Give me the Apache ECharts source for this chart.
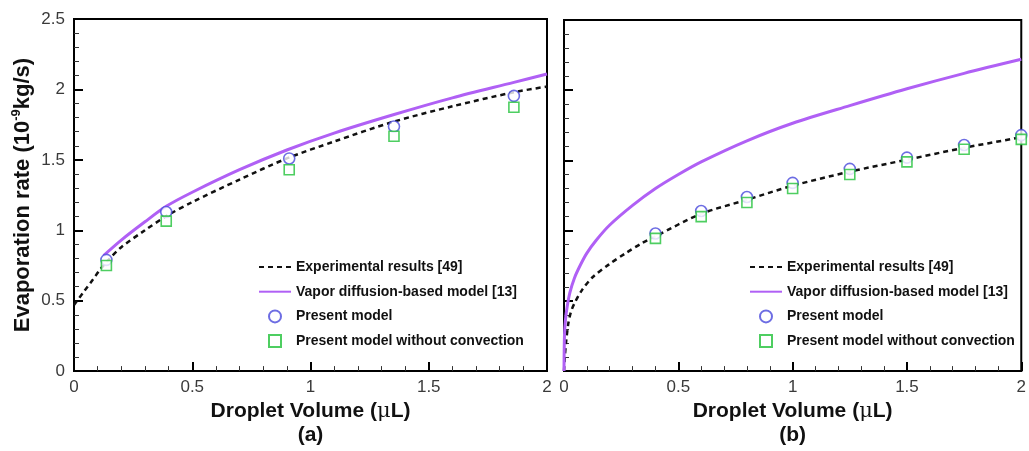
<!DOCTYPE html>
<html>
<head>
<meta charset="utf-8">
<script src="https://cdn.jsdelivr.net/npm/echarts@6/dist/echarts.min.js"></script>
<style>
  html, body { margin: 0; padding: 0; background: #fff; }
  #chart { width: 1029px; height: 451px; }
</style>
</head>
<body>
<div id="chart"></div>
<script>
// panel (a)
const expVolA  = [0, 0.04, 0.08, 0.11, 0.14, 0.2, 0.3, 0.39, 0.5, 0.7, 0.9, 1.1, 1.35, 1.6, 1.86, 2.0];
const expRateA = [0.47, 0.56, 0.65, 0.72, 0.78, 0.88, 1.0, 1.1, 1.2, 1.36, 1.51, 1.63, 1.77, 1.88, 1.98, 2.02];
const vapVolA  = [0.125, 0.2, 0.3, 0.39, 0.5, 0.7, 0.9, 1.1, 1.35, 1.6, 1.86, 2.0];
const vapRateA = [0.82, 0.93, 1.06, 1.17, 1.27, 1.43, 1.57, 1.69, 1.82, 1.94, 2.05, 2.11];
const modVolA  = [0.137, 0.39, 0.91, 1.353, 1.86];
const modRateA = [0.79, 1.13, 1.51, 1.737, 1.954];
const noConvA  = [0.75, 1.065, 1.43, 1.667, 1.873];

// panel (b)
const expVolB  = [0, 0.004, 0.01, 0.019, 0.03, 0.045, 0.08, 0.126, 0.197, 0.27, 0.34, 0.4, 0.6, 0.8, 1.0, 1.25, 1.5, 1.75, 2.0];
const expRateB = [0, 0.11, 0.22, 0.34, 0.42, 0.48, 0.58, 0.67, 0.76, 0.84, 0.91, 0.96, 1.12, 1.22, 1.32, 1.42, 1.505, 1.59, 1.665];
const vapVolB  = [0, 0.002, 0.006, 0.014, 0.026, 0.045, 0.07, 0.1, 0.14, 0.2, 0.3, 0.4, 0.5, 0.6, 0.8, 1.0, 1.25, 1.5, 1.75, 2.0];
const vapRateB = [0, 0.25, 0.36, 0.46, 0.56, 0.66, 0.75, 0.84, 0.93, 1.04, 1.18, 1.3, 1.4, 1.49, 1.64, 1.765, 1.89, 2.01, 2.12, 2.22];
const modVolB  = [0.4, 0.6, 0.8, 1.0, 1.25, 1.5, 1.75, 2.0];
const modRateB = [0.98, 1.14, 1.24, 1.34, 1.44, 1.52, 1.61, 1.68];
const noConvB  = [0.945, 1.10, 1.20, 1.30, 1.40, 1.49, 1.58, 1.65];

const names = ['Experimental results [49]', 'Vapor diffusion-based model [13]', 'Present model', 'Present model without convection'];

const zip = (xs, ys) => xs.map((x, i) => [x, ys[i]]);

const FONT = '"Liberation Sans", Arial, sans-serif';

function xAxisFor(idx, tag) {
  return {
    type: 'value', gridIndex: idx, min: 0, max: 2, interval: 0.5,
    axisLine: { show: true, onZero: false, lineStyle: { color: '#000', width: 2 } },
    axisTick: { show: true, inside: true, length: 9, lineStyle: { color: '#000', width: 2 } },
    minorTick: { show: true, splitNumber: 5, length: 5, lineStyle: { color: '#333', width: 1 } },
    splitLine: { show: false },
    axisLabel: { color: '#3a3a3a', fontSize: 17, fontFamily: FONT, margin: 8 },
    name: '{t|Droplet Volume (}{mu|\u03bc}{t|L)}\n{t|' + tag + '}',
    nameLocation: 'middle', nameGap: 26,
    nameTextStyle: {
      rich: {
        t: { fontSize: 21, fontWeight: 'bold', fontFamily: FONT, color: '#111', lineHeight: 24 },
        mu: { fontSize: 21, fontWeight: 'normal', fontFamily: '"DejaVu Serif", serif', color: '#111', lineHeight: 24 }
      }
    }
  };
}

function yAxisFor(idx, showLabels) {
  const ax = {
    type: 'value', gridIndex: idx, min: 0, max: 2.5, interval: 0.5,
    axisLine: { show: true, onZero: false, lineStyle: { color: '#000', width: 2 } },
    axisTick: { show: true, inside: true, length: 9, lineStyle: { color: '#000', width: 2 } },
    minorTick: { show: true, splitNumber: 5, length: 5, lineStyle: { color: '#333', width: 1 } },
    splitLine: { show: false },
    axisLabel: { show: showLabels, color: '#3a3a3a', fontSize: 17, fontFamily: FONT, margin: 9 }
  };
  if (showLabels) {
    ax.name = '{t|Evaporation rate (10}{sup|-9}{t|kg/s)}';
    ax.nameLocation = 'middle';
    ax.nameGap = 38;
    ax.nameTextStyle = {
      rich: {
        t: { fontSize: 22, fontWeight: 'bold', fontFamily: FONT, color: '#111', lineHeight: 26 },
        sup: { fontSize: 13, fontWeight: 'bold', fontFamily: FONT, color: '#111', lineHeight: 13, verticalAlign: 'top' }
      }
    };
  }
  return ax;
}

function seriesFor(idx, exV, exR, vpV, vpR, mdV, mdR, ncR) {
  return [
    {
      name: names[0], type: 'line', xAxisIndex: idx, yAxisIndex: idx,
      data: zip(exV, exR), symbol: 'none', smooth: 0.3,
      lineStyle: { color: '#111', width: 2.5, type: [5, 4] }, itemStyle: { color: '#111' }, z: 2
    },
    {
      name: names[1], type: 'line', xAxisIndex: idx, yAxisIndex: idx,
      data: zip(vpV, vpR), symbol: 'none', smooth: 0.3,
      lineStyle: { color: '#b060f5', width: 3 }, itemStyle: { color: '#b060f5' }, z: 2
    },
    {
      name: names[2], type: 'scatter', xAxisIndex: idx, yAxisIndex: idx,
      data: zip(mdV, mdR), symbol: 'circle', symbolSize: 11,
      itemStyle: { color: '#fff', borderColor: '#4848dc', borderWidth: 1.6 }, z: 3
    },
    {
      name: names[3], type: 'scatter', xAxisIndex: idx, yAxisIndex: idx,
      data: zip(mdV, ncR), symbol: 'rect', symbolSize: 10,
      itemStyle: { color: '#fff', borderColor: '#22c23a', borderWidth: 1.6 }, z: 4
    }
  ];
}

function legendAt(left) {
  return {
    data: [
      { name: names[0], itemStyle: { opacity: 0 } },
      { name: names[1], itemStyle: { opacity: 0 } },
      { name: names[2], icon: 'circle' },
      { name: names[3], icon: 'path://M0,0L10,0L10,10L0,10Z' }
    ],
    orient: 'vertical', left: left, top: 255, padding: 5,
    itemWidth: 32, itemHeight: 12, itemGap: 10.7, symbolKeepAspect: true,
    textStyle: { fontSize: 14, fontWeight: 'bold', fontFamily: FONT, color: '#111', lineHeight: 14 },
    selectedMode: false
  };
}

const chart = echarts.init(document.getElementById('chart'), null, { renderer: 'canvas' });
chart.setOption({
  animation: false,
  backgroundColor: '#fff',
  grid: [
    { left: 74, top: 19, width: 473, height: 356, show: true, borderColor: '#000', borderWidth: 2 },
    { left: 564, top: 20, width: 467, height: 356, show: true, borderColor: '#000', borderWidth: 2 }
  ],
  xAxis: [xAxisFor(0, '(a)'), xAxisFor(1, '(b)')],
  yAxis: [yAxisFor(0, true), yAxisFor(1, false)],
  legend: [legendAt(253), legendAt(744)],
  series: seriesFor(0, expVolA, expRateA, vapVolA, vapRateA, modVolA, modRateA, noConvA)
    .concat(seriesFor(1, expVolB, expRateB, vapVolB, vapRateB, modVolB, modRateB, noConvB))
});
</script>
</body>
</html>
